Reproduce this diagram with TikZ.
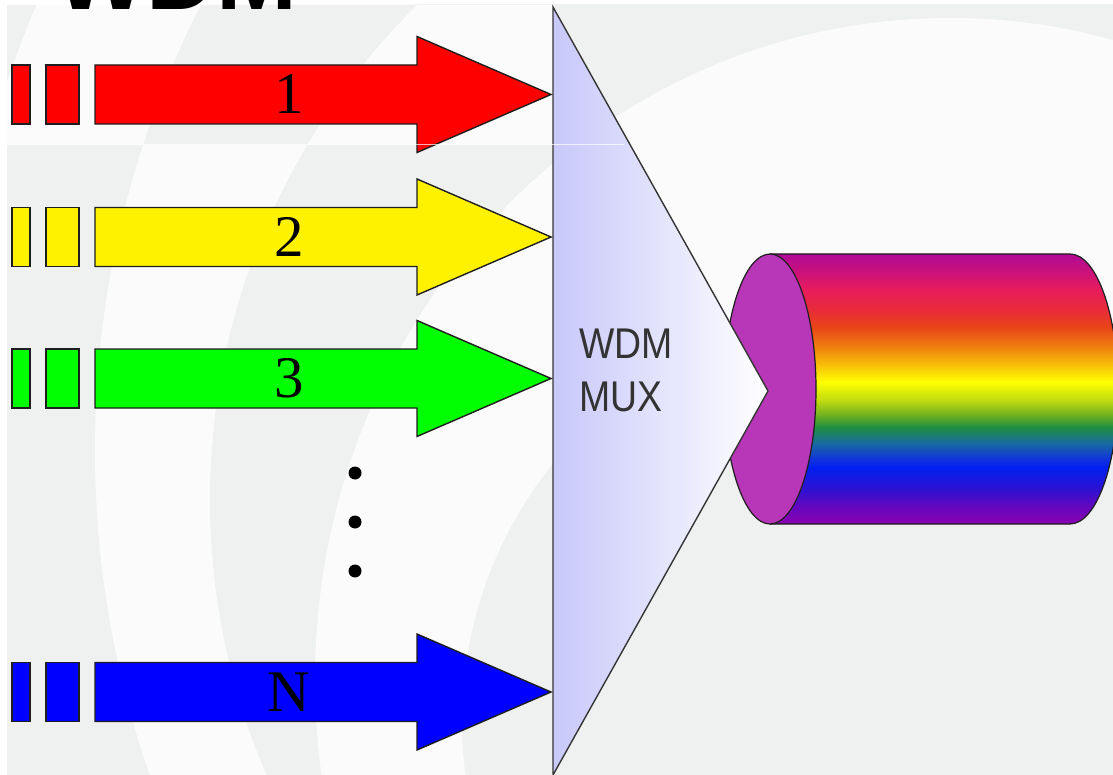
\documentclass[tikz,border=0pt]{standalone}
\usepackage{fontspec}
\setmainfont{Liberation Serif}
\newfontfamily\titlefont{Liberation Sans}
\newfontfamily\muxfont[FakeStretch=0.87]{Liberation Sans}
\definecolor{bggray}{RGB}{239,241,240}
\definecolor{bgwhite}{RGB}{251,251,251}
\definecolor{outline}{RGB}{30,30,30}
\definecolor{facepurple}{RGB}{184,54,184}
\definecolor{muxleft}{RGB}{200,200,250}
\definecolor{muxtext}{RGB}{51,51,51}
\definecolor{cA}{RGB}{176,10,150}
\definecolor{cB}{RGB}{200,16,126}
\definecolor{cC}{RGB}{232,28,92}
\definecolor{cD}{RGB}{232,44,58}
\definecolor{cE}{RGB}{232,68,24}
\definecolor{cF}{RGB}{240,128,16}
\definecolor{cG}{RGB}{248,192,8}
\definecolor{cH}{RGB}{255,255,0}
\definecolor{cI}{RGB}{192,220,16}
\definecolor{cJ}{RGB}{112,176,32}
\definecolor{cK}{RGB}{32,144,64}
\definecolor{cL}{RGB}{24,106,160}
\definecolor{cM}{RGB}{16,48,224}
\definecolor{cN}{RGB}{0,32,240}
\definecolor{cO}{RGB}{48,16,208}
\definecolor{cP}{RGB}{96,8,192}
\definecolor{cQ}{RGB}{138,0,176}
\pgfdeclareverticalshading{rainbow}{100bp}{color(0bp)=(cQ); color(25bp)=(cQ); color(28.52bp)=(cP); color(31.3bp)=(cO); color(35.56bp)=(cN); color(36.85bp)=(cM); color(40bp)=(cL); color(42.96bp)=(cK); color(45.19bp)=(cJ); color(47.96bp)=(cI); color(51.3bp)=(cH); color(54.44bp)=(cG); color(57.78bp)=(cF); color(61.48bp)=(cE); color(64.63bp)=(cD); color(68.33bp)=(cC); color(72.04bp)=(cB); color(75bp)=(cA); color(100bp)=(cA)}
\begin{document}
\begin{tikzpicture}[x=1pt,y=-1pt,
  outl/.style={draw=outline, line width=1.4pt, line join=miter},
  lab/.style={inner sep=0pt, font=\fontsize{59}{59}\selectfont},
  dotnode/.style={circle, fill=black, inner sep=0pt, minimum size=13pt},
  muxtxt/.style={anchor=west, align=left, inner sep=0pt, text=muxtext, font=\muxfont\fontsize{43}{53}\selectfont}]
\path[use as bounding box] (0,0) rectangle (1113,775);
\fill[white] (0,0) rectangle (1113,775);
% background ripples
\begin{scope}
  \clip (7,5) rectangle (1113,775);
  \fill[bggray] (7,5) rectangle (1113,775);
  \fill[bgwhite] (1082,450) circle [radius=987];
  \fill[bggray] (905,500) circle [radius=695];
  \fill[bgwhite] (950,680) ellipse [x radius=635, y radius=662];
  \fill[bggray] (874,722) circle [radius=412];
\end{scope}
% top strip of the background (separate slice, left of the multiplexer edge)
\begin{scope}
  \clip (7,5) -- (553,5) -- (630,145) -- (7,145) -- cycle;
  \fill[bggray] (7,5) rectangle (630,145);
  \fill[bgwhite] (1082,450) circle [radius=1136];
  \fill[bggray] (1082,450) circle [radius=987];
  \fill[bgwhite] (905,500) circle [radius=695];
\end{scope}
% cut-off title
\node[anchor=base west, inner sep=0pt, font=\titlefont\bfseries\fontsize{97}{97}\selectfont] (title) at (55,10) {WDM};
% input channels
\foreach \c/\col/\lab/\nm in {94.5/red/1/one, 237/yellow/2/two, 378.5/green/3/three, 692/blue/N/n}{
  \draw[outl, fill=\col] (12,\c-29.5) rectangle (30,\c+29.5);
  \draw[outl, fill=\col] (46,\c-29.5) rectangle (79,\c+29.5);
  \draw[outl, fill=\col] (95,\c-29.5) -- (417,\c-29.5) -- (417,\c-58) -- (551,\c)
        -- (417,\c+58) -- (417,\c+29.5) -- (95,\c+29.5) -- cycle;
  \node[lab] (lab-\nm) at (289,\c) {\lab};
}
% dots
\node[dotnode] (d1) at (355,473) {};
\node[dotnode] (d2) at (355,522) {};
\node[dotnode] (d3) at (355,571) {};
% fibre cylinder
\shadedraw[shading=rainbow, draw=outline, line width=1.2pt]
  (770,254) -- (1070,254) arc[start angle=-90, end angle=90, x radius=48, y radius=135]
  -- (770,524) -- cycle;
\draw[draw=outline, line width=1.2pt, fill=facepurple] (770,389) ellipse [x radius=46, y radius=135];
% multiplexer
\draw[draw=outline!90, line width=1.4pt, left color=muxleft, right color=white, line join=miter]
  (553,7) -- (768,391) -- (553,775) -- cycle;
\node[muxtxt] (mux) at (579,370) {WDM\\MUX};
% faint scan line
\draw[white, opacity=0.7, line width=1pt] (7,145) -- (624,145);
\end{tikzpicture}
\end{document}
